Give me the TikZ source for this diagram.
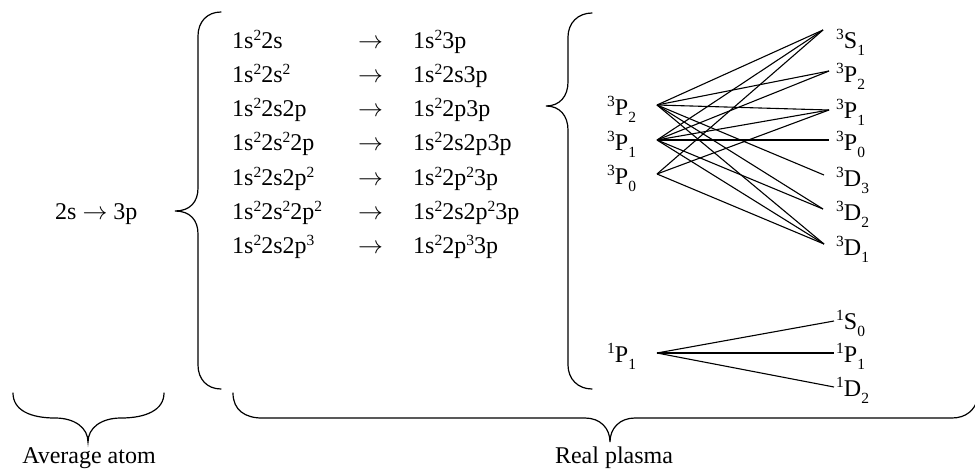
\documentclass[tikz,border=0pt]{standalone}
\usepackage{fontspec}
\setmainfont{Liberation Serif}
\newcommand\upx[1]{\raisebox{0.33em}{\fontsize{15.5}{16}\selectfont #1}}
\newcommand\tup[1]{\raisebox{0.36em}{\fontsize{15.5}{16}\selectfont #1}}
\newcommand\dnx[1]{\raisebox{-0.30em}{\fontsize{15.5}{16}\selectfont #1}}
\tikzset{
  txt/.style={inner sep=0pt, anchor=base west, font=\fontsize{24}{28}\selectfont},
  lbl/.style={inner sep=0pt, anchor=base, font=\fontsize{24}{28}\selectfont},
  bracel/.style={line width=1.2pt, line cap=round},
  conn/.style={line width=1.1pt},
}
\begin{document}
\begin{tikzpicture}[x=1pt,y=-1pt]
\useasboundingbox (0,0) rectangle (975,469);

% average atom
\node[txt] (avg) at (55,219) {2s $\rightarrow$ 3p};

% big left brace
\draw[bracel] (221,12) .. controls (207,12) and (198,22) .. (198,36) -- (198,188)
  .. controls (198,202) and (190,211) .. (175,211)
  .. controls (190,211) and (198,220) .. (198,234) -- (198,365)
  .. controls (198,379) and (207,389) .. (221,389);

% configuration list
\node[txt] (a1) at (232,48)  {1s\upx{2}2s};
\node[txt] (a2) at (232,82)  {1s\upx{2}2s\upx{2}};
\node[txt] (a3) at (232,116) {1s\upx{2}2s2p};
\node[txt] (a4) at (232,150) {1s\upx{2}2s\upx{2}2p};
\node[txt] (a5) at (232,185) {1s\upx{2}2s2p\upx{2}};
\node[txt] (a6) at (232,219) {1s\upx{2}2s\upx{2}2p\upx{2}};
\node[txt] (a7) at (232,253) {1s\upx{2}2s2p\upx{3}};
\foreach \i/\y in {1/48,2/82,3/116,4/150,5/185,6/219,7/253}
  \node[txt] (r\i) at (358,\y) {$\rightarrow$};
\node[txt] (b1) at (413,48)  {1s\upx{2}3p};
\node[txt] (b2) at (413,82)  {1s\upx{2}2s3p};
\node[txt] (b3) at (413,116) {1s\upx{2}2p3p};
\node[txt] (b4) at (413,150) {1s\upx{2}2s2p3p};
\node[txt] (b5) at (413,185) {1s\upx{2}2p\upx{2}3p};
\node[txt] (b6) at (413,219) {1s\upx{2}2s2p\upx{2}3p};
\node[txt] (b7) at (413,253) {1s\upx{2}2p\upx{3}3p};

% second brace
\draw[bracel] (592,13) .. controls (578,13) and (568,23) .. (568,37) -- (568,82)
  .. controls (568,96) and (560,106) .. (546,106)
  .. controls (560,106) and (568,116) .. (568,130) -- (568,365)
  .. controls (568,379) and (578,389) .. (592,389);

% left terms
\node[txt] (lP2) at (607,115) {\tup{3}P\dnx{2}};
\node[txt] (lP1) at (607,150) {\tup{3}P\dnx{1}};
\node[txt] (lP0) at (607,184) {\tup{3}P\dnx{0}};
\node[txt] (sP1) at (607,362) {\tup{1}P\dnx{1}};
\coordinate (oP2) at (657,105);
\coordinate (oP1) at (657,140);
\coordinate (oP0) at (657,174);
\coordinate (osP1) at (657,353);

% right terms
\node[txt] (tS1) at (836,48)  {\tup{3}S\dnx{1}};
\node[txt] (tP2) at (836,82)  {\tup{3}P\dnx{2}};
\node[txt] (tP1) at (836,118) {\tup{3}P\dnx{1}};
\node[txt] (tP0) at (836,150) {\tup{3}P\dnx{0}};
\node[txt] (tD3) at (836,186) {\tup{3}D\dnx{3}};
\node[txt] (tD2) at (836,220) {\tup{3}D\dnx{2}};
\node[txt] (tD1) at (836,255) {\tup{3}D\dnx{1}};
\node[txt] (uS0) at (836,329) {\tup{1}S\dnx{0}};
\node[txt] (uP1) at (836,362) {\tup{1}P\dnx{1}};
\node[txt] (uD2) at (836,396) {\tup{1}D\dnx{2}};
\coordinate (eS1) at (823,30);
\coordinate (eP2) at (829,71);
\coordinate (eP1) at (829,110);
\coordinate (eP0) at (829,140);
\coordinate (eD3) at (824,175);
\coordinate (eD2) at (823,209);
\coordinate (eD1) at (824,244);
\coordinate (fS0) at (834,321);
\coordinate (fP1) at (834,353);
\coordinate (fD2) at (834,387);

% transitions
\foreach \e in {eS1,eP2,eP1,eD3,eD2,eD1} \draw[conn] (oP2) -- (\e);
\foreach \e in {eS1,eP2,eP1,eP0,eD2,eD1} \draw[conn] (oP1) -- (\e);
\foreach \e in {eS1,eP1,eD1} \draw[conn] (oP0) -- (\e);
\foreach \e in {fS0,fP1,fD2} \draw[conn] (osP1) -- (\e);

% bottom braces
\draw[bracel] (13,393) .. controls (13,410) and (30,418) .. (55,418)
  .. controls (75,418) and (88,428) .. (88,442)
  .. controls (88,428) and (101,418) .. (121,418)
  .. controls (146,418) and (164,410) .. (164,393);
\draw[bracel] (233,393) .. controls (233,410) and (245,418) .. (262,418) -- (585,418)
  .. controls (600,418) and (610,428) .. (610,442)
  .. controls (610,428) and (620,418) .. (635,418) -- (952,418)
  .. controls (966,418) and (975,410) .. (978,398);
\node[lbl] (avgl) at (89,463) {Average atom};
\node[lbl] (reall) at (614,463) {Real plasma};
\end{tikzpicture}
\end{document}
